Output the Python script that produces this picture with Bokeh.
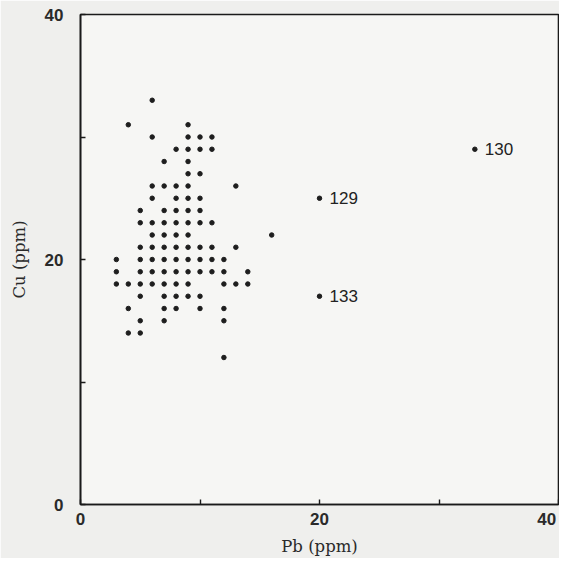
from bokeh.plotting import figure
from bokeh.models import Range1d, ColumnDataSource, LabelSet, FixedTicker
from bokeh.core.properties import value
from bokeh.embed import file_html
from bokeh.resources import INLINE

# Pb (ppm) and Cu (ppm) of the samples
pb = [6,
      4, 9,
      6, 9, 10, 11,
      8, 9, 10, 11,
      7, 9,
      9, 10,
      6, 7, 8, 9, 13,
      6, 8, 9, 10,
      5, 7, 8, 9, 10,
      5, 6, 7, 8, 9, 10, 11,
      6, 7, 8, 9, 16,
      5, 6, 7, 8, 9, 10, 11, 13,
      3, 5, 6, 7, 8, 9, 10, 11, 12,
      3, 5, 6, 7, 8, 9, 10, 11, 12, 14,
      3, 4, 5, 6, 7, 8, 9, 12, 13, 14,
      5, 7, 8, 9, 10,
      4, 7, 8, 10, 12,
      5, 7, 12,
      4, 5,
      12]
cu = [33,
      31, 31,
      30, 30, 30, 30,
      29, 29, 29, 29,
      28, 28,
      27, 27,
      26, 26, 26, 26, 26,
      25, 25, 25, 25,
      24, 24, 24, 24, 24,
      23, 23, 23, 23, 23, 23, 23,
      22, 22, 22, 22, 22,
      21, 21, 21, 21, 21, 21, 21, 21,
      20, 20, 20, 20, 20, 20, 20, 20, 20,
      19, 19, 19, 19, 19, 19, 19, 19, 19, 19,
      18, 18, 18, 18, 18, 18, 18, 18, 18, 18,
      17, 17, 17, 17, 17,
      16, 16, 16, 16, 16,
      15, 15, 15,
      14, 14,
      12]

# labelled outliers
out_pb = [33, 20, 20]
out_cu = [29, 25, 17]
out_id = ["130", "129", "133"]

xticks = [0, 10, 20, 30, 40]
yticks = [0, 10, 20, 30, 40]
x_labels = {0: "0", 10: "", 20: "20", 30: "", 40: "40\u2009"}  # thin space keeps "40" inside the border
y_labels = {0: "0", 10: "", 20: "20", 30: "", 40: "40"}

p = figure(width=559, height=558, output_backend="svg", toolbar_location=None,
           x_range=Range1d(0, 40), y_range=Range1d(0, 40),
           min_border_left=80, min_border_right=1, min_border_top=14, min_border_bottom=47)

p.background_fill_color = "#f6f6f4"
p.border_fill_color = "#efefed"
p.outline_line_color = "#1a1a1a"
p.outline_line_width = 1.6
p.grid.visible = False

p.scatter(pb, cu, size=4.5, color="#1e1e1e")
p.scatter(out_pb, out_cu, size=4.5, color="#1e1e1e")

src = ColumnDataSource(dict(x=out_pb, y=out_cu, t=out_id))
p.add_layout(LabelSet(x="x", y="y", text="t", source=src, x_offset=10, y_offset=0,
                      text_baseline="middle", text_font=value("Liberation Sans"),
                      text_font_size="17px", text_color="#222222"))

for ax, ticks, labs in ((p.xaxis[0], xticks, x_labels), (p.yaxis[0], yticks, y_labels)):
    ax.ticker = FixedTicker(ticks=ticks)
    ax.major_label_overrides = labs
    ax.minor_tick_line_color = None
    ax.major_tick_in = 5
    ax.major_tick_out = 0
    ax.axis_line_width = 1.6
    ax.axis_line_color = "#1a1a1a"
    ax.major_tick_line_color = "#1a1a1a"
    ax.major_tick_line_width = 1.4
    ax.major_label_text_font = "Liberation Sans"
    ax.major_label_text_font_style = "bold"
    ax.major_label_text_font_size = "17px"
    ax.major_label_text_color = "#2a2a2a"
    ax.axis_label_text_font = "DejaVu Serif"
    ax.axis_label_text_font_style = "normal"
    ax.axis_label_text_font_size = "16.5px"
    ax.axis_label_text_color = "#2a2a2a"

p.xaxis.axis_label = "Pb (ppm)"
p.yaxis.axis_label = "Cu (ppm)"
p.xaxis.major_label_standoff = 5
p.yaxis.major_label_standoff = 17
p.xaxis.axis_label_standoff = 5
p.yaxis.axis_label_standoff = 13

open("out.html", "w").write(file_html(p, INLINE))
